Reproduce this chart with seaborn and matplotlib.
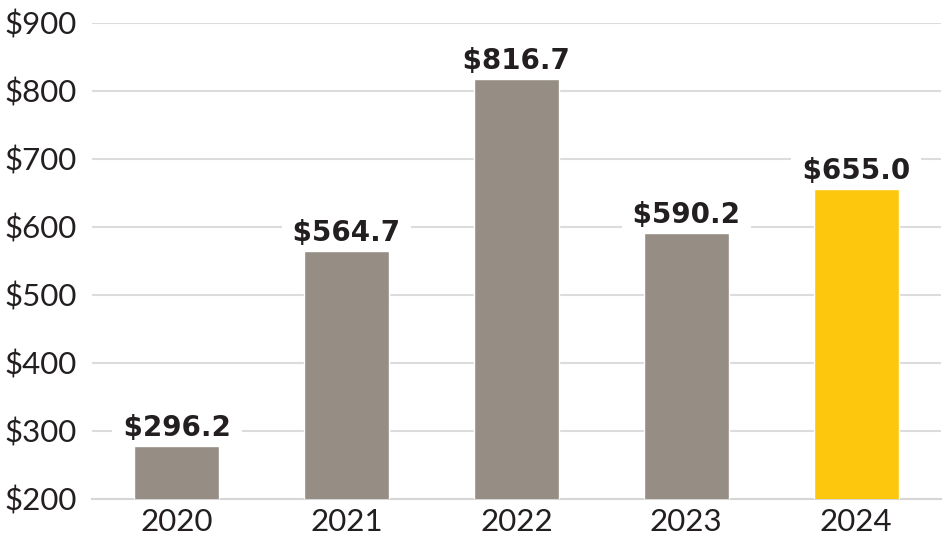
import matplotlib
matplotlib.use("Agg")
import matplotlib.pyplot as plt
import seaborn as sns
import pandas as pd

years = ["2020", "2021", "2022", "2023", "2024"]
bar_values = [277.5, 564.7, 816.7, 590.2, 655.0]
value_labels = ["$296.2", "$564.7", "$816.7", "$590.2", "$655.0"]
y_ticks = [200, 300, 400, 500, 600, 700, 800, 900]
y_tick_labels = ["$200", "$300", "$400", "$500", "$600", "$700", "$800", "$900"]

GRAY = "#968D84"
GOLD = "#FDC70D"
TEXT = "#231F20"
colors = [GRAY, GRAY, GRAY, GRAY, GOLD]

sns.set_theme(style="white")
plt.rcParams["font.family"] = ["Lato", "DejaVu Sans"]

df = pd.DataFrame({"year": years, "value": bar_values})

fig = plt.figure(figsize=(9.45, 5.40), dpi=100)
ax = fig.add_axes([92 / 945, 1 - 498.7 / 540, (941 - 92) / 945, (498.7 - 22.5) / 540])

sns.barplot(data=df, x="year", y="value", hue="year", palette=colors,
            legend=False, width=0.5, ax=ax, saturation=1, zorder=3)

ax.set_ylim(200, 900)
ax.set_xlim(-0.5, 4.5)
ax.set_yticks(y_ticks)
ax.set_yticklabels(y_tick_labels)
ax.set_xlabel("")
ax.set_ylabel("")
ax.yaxis.grid(True, color="#DCDCDC", linewidth=1.5, zorder=0)
ax.xaxis.grid(False)
for s in ["top", "right", "left"]:
    ax.spines[s].set_visible(False)
ax.spines["bottom"].set_color("#D6D6D6")
ax.spines["bottom"].set_linewidth(1.5)
ax.tick_params(axis="y", length=0, pad=11, labelsize=22.5, labelcolor=TEXT)
ax.tick_params(axis="x", length=0, pad=7, labelsize=22.5, labelcolor=TEXT)

for i, (v, lab) in enumerate(zip(bar_values, value_labels)):
    ax.annotate(" " + lab + " ", xy=(i, v), xytext=(0, 7.2), textcoords="offset points",
                ha="center", va="baseline", fontsize=20, fontweight="bold",
                family="DejaVu Sans", color=TEXT, zorder=2,
                bbox=dict(boxstyle="square,pad=0.05", facecolor="white", edgecolor="none"))

fig.savefig("out.png", dpi=100)
